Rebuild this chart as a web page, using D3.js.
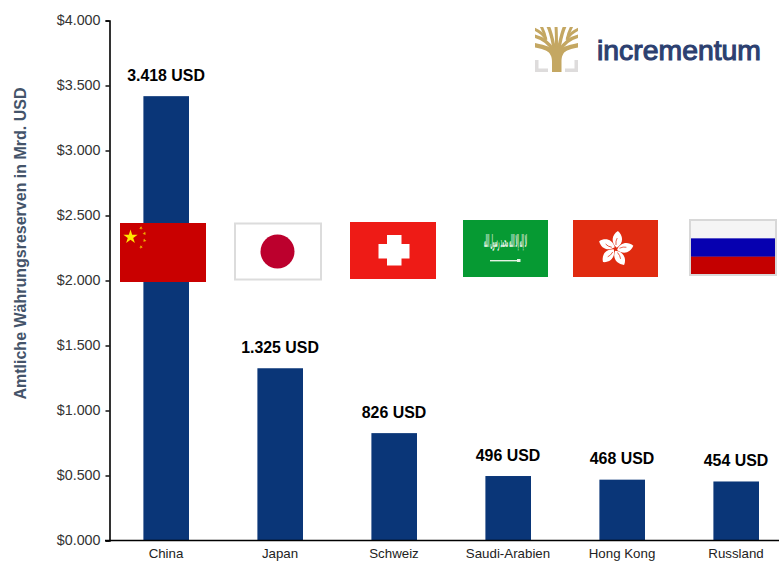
<!DOCTYPE html>
<html><head><meta charset="utf-8">
<script src="https://cdn.jsdelivr.net/npm/d3@7/dist/d3.min.js"></script>
<style>html,body{margin:0;padding:0;background:#fff;overflow:hidden}svg{display:block}
text{font-family:"Liberation Sans",Arial,sans-serif}</style></head>
<body><svg id="c" width="779" height="561"></svg>
<script>
const categories=["China","Japan","Schweiz","Saudi-Arabien","Hong Kong","Russland"];
const reserves=[3418,1325,826,496,468,454];
const valueLabels=["3.418 USD","1.325 USD","826 USD","496 USD","468 USD","454 USD"];
const tickValues=[0,500,1000,1500,2000,2500,3000,3500,4000];
const tickLabels=["$0.000","$0.500","$1.000","$1.500","$2.000","$2.500","$3.000","$3.500","$4.000"];
const yTitle="Amtliche Währungsreserven in Mrd. USD";
const logoText="incrementum";

const svg=d3.select("#c");
const y=d3.scaleLinear().domain([0,4000]).range([540.5,20.5]);
const x=d3.scaleBand().domain(categories).range([109,793]).paddingInner(0.6).paddingOuter(0.3);
const sans='"Liberation Sans",Arial,sans-serif';

// bars
svg.append("g").selectAll("rect").data(categories).join("rect")
 .attr("x",d=>x(d)+0.2).attr("width",x.bandwidth())
 .attr("y",(d,i)=>y(reserves[i])).attr("height",(d,i)=>y(0)-y(reserves[i]))
 .attr("fill","#0a3678");

// axes
const yAxis=d3.axisLeft(y).tickValues(tickValues).tickFormat((d,i)=>tickLabels[i]).tickSize(4).tickPadding(5);
const gy=svg.append("g").attr("transform","translate(109.5,0)").call(yAxis);
gy.select(".domain").attr("stroke","#000").attr("stroke-width",1.6);
gy.selectAll(".tick line").attr("stroke","#000").attr("stroke-width",1.4);
gy.selectAll(".tick text").attr("fill","#333").attr("dy","0.28em").style("font-size","14.3px").style("font-family",sans);

const xAxis=d3.axisBottom(x).tickSize(0).tickPadding(0);
const gx=svg.append("g").attr("transform","translate(0,540.5)").call(xAxis);
gx.select(".domain").attr("stroke","#000").attr("stroke-width",1.6).attr("d","M105,0H779");
gx.selectAll(".tick text").attr("fill","#222").attr("y",17.5).attr("dy",0)
 .style("font-size","13.3px").style("font-family",sans);

// value labels
svg.append("g").selectAll("text").data(categories).join("text")
 .attr("x",d=>x(d)+x.bandwidth()/2).attr("y",(d,i)=>y(reserves[i])-15.5)
 .attr("text-anchor","middle").attr("font-weight","bold").attr("font-size",15.9).attr("fill","#000")
 .text((d,i)=>valueLabels[i]);

// y title
svg.append("text").attr("transform","translate(25.5,243.5) rotate(-90)")
 .attr("text-anchor","middle").attr("font-weight","bold").attr("font-size",16).attr("fill","#44546a").text(yTitle);

// flags
function flag(px,py,w,h,draw){const g=svg.append("g").attr("transform",`translate(${px},${py})`);draw(g,w,h);}
const star=(g,cx,cy,r,rot,fill)=>{
  const pts=d3.range(10).map(i=>{const a=-Math.PI/2+rot+i*Math.PI/5,q=i%2?r*0.382:r;return [cx+q*Math.cos(a),cy+q*Math.sin(a)];});
  g.append("polygon").attr("points",pts.join(" ")).attr("fill",fill);
};
flag(120,223,86,59,(g,w,h)=>{
  g.append("rect").attr("width",w).attr("height",h).attr("fill","#c90000");
  star(g,10.5,14,7.5,0,"#ffe600");
  [[21,5,.6],[24.5,10.5,1],[24.5,17.5,.2],[21,24,.8]].forEach(p=>star(g,p[0],p[1],2,p[2],"#f0b000"));
});
flag(235,223.5,86,56,(g,w,h)=>{
  g.append("rect").attr("width",w).attr("height",h).attr("fill","#fff").attr("stroke","#dcdcdc").attr("stroke-width",2);
  g.append("circle").attr("cx",w/2-.5).attr("cy",28).attr("r",17).attr("fill","#bc002d");
});
flag(350,222,86,57,(g,w,h)=>{
  g.append("rect").attr("width",w).attr("height",h).attr("fill","#ee1b16");
  g.append("rect").attr("x",28.5).attr("y",22).attr("width",31).attr("height",14.5).attr("fill","#fff");
  g.append("rect").attr("x",37).attr("y",13).attr("width",14.5).attr("height",30.5).attr("fill","#fff");
});
flag(463,220,85,57,(g,w,h)=>{
  g.append("rect").attr("width",w).attr("height",h).attr("fill","#069a33");
  g.append("text").attr("transform","translate(42.5,26.5) scale(1,1.5)").attr("text-anchor","middle").attr("fill","#e4f2e4")
   .style("font-family",'"DejaVu Sans"').attr("font-size",11).attr("font-weight","bold")
   .attr("textLength",43).attr("lengthAdjust","spacingAndGlyphs").text("لا إله إلا الله محمد رسول الله");
  g.append("rect").attr("x",27).attr("y",40).attr("width",30).attr("height",1.4).attr("fill","#e4f2e4");
  g.append("rect").attr("x",54).attr("y",39).attr("width",3.5).attr("height",3).attr("fill","#e4f2e4");
});
flag(573,220,85,57,(g,w,h)=>{
  g.append("rect").attr("width",w).attr("height",h).attr("fill","#e02b10");
  const c=g.append("g").attr("transform","translate(42.5,29)");
  d3.range(5).forEach(i=>{
    const p=c.append("g").attr("transform",`rotate(${i*72+14})`);
    p.append("path").attr("d","M1,-1.5C-6.5,-5,-7,-13,-2,-18C4,-15,7,-8,1,-1.5Z").attr("fill","#fff");
    p.append("path").attr("d","M-0.5,-4Q-2,-8,-1,-11").attr("fill","none").attr("stroke","#e02b10").attr("stroke-width",0.7);
  });
});
flag(690,220,86,55,(g,w,h)=>{
  const s=["#f5f5f5","#0600b0","#c40000"];
  s.forEach((c,i)=>g.append("rect").attr("y",i*h/3).attr("width",w).attr("height",h/3+.2).attr("fill",c));
  g.append("rect").attr("width",w).attr("height",h).attr("fill","none").attr("stroke","#d8d8d8").attr("stroke-width",2);
});

// logo
const logo=svg.append("g").attr("transform","translate(535,26)");
logo.append("path").attr("d","M0,34V46H13V42.5H3.5V34ZM43,34V46H30V42.5H39.5V34Z").attr("fill","#dedcdc");
const clip=svg.append("clipPath").attr("id","logoClip");
clip.append("rect").attr("x",0).attr("y",1).attr("width",43).attr("height",46);
const tree=logo.append("g").attr("clip-path","url(#logoClip)").attr("fill","none").attr("stroke","#c4a762").attr("stroke-linecap","butt");
const branches=[
 ["M21.5,30C17,23,9,21,-1,19",4.4],["M21.5,30C26,23,34,21,44,19",4.4],
 ["M19,25C14,17,8,12,-1,10",3.6],["M24,25C29,17,35,12,44,10",3.6],
 ["M11,13C8,8,4,5,-1,3",3],["M32,13C35,8,39,5,44,3",3],
 ["M11,14C10,9,9,5,6,0",2.8],["M32,14C33,9,34,5,37,0",2.8],
 ["M20,26C18,18,17,8,13,0",3.4],["M23,26C25,18,26,8,30,0",3.4],
 ["M21.5,22C21.5,15,21.5,8,21,0",3]
];
branches.forEach(b=>tree.append("path").attr("d",b[0]).attr("stroke-width",b[1]));
logo.append("path").attr("fill","#c4a762")
 .attr("d","M17,46V36C17,30,15,27,11,24L21.5,20L32,24C28,27,26.5,30,26.5,36V46Z");
svg.append("text").attr("x",597).attr("y",59.5).attr("font-size",28.5)
 .attr("fill","#2c4070").attr("stroke","#2c4070").attr("stroke-width",1.1)
 .attr("textLength",164).attr("lengthAdjust","spacingAndGlyphs")
 .style("font-family",sans).text(logoText);
</script></body></html>
